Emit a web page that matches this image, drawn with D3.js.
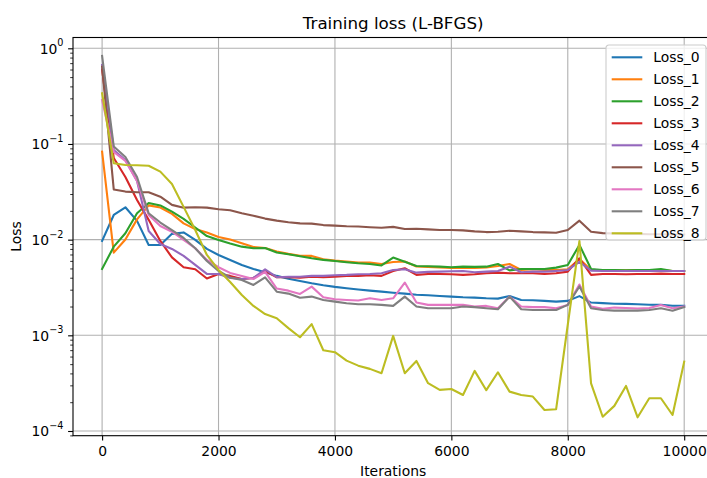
<!DOCTYPE html>
<html>
<head>
<meta charset="utf-8">
<script src="https://cdn.jsdelivr.net/npm/d3@7/dist/d3.min.js"></script>
<style>
body { margin: 0; background: #fff; }
text { font-family: "DejaVu Sans", sans-serif; fill: #000; }
</style>
</head>
<body>
<svg id="chart" width="707" height="478"></svg>
<script>
var iterations = [0, 200, 400, 600, 800, 1000, 1200, 1400, 1600, 1800,
  2000, 2200, 2400, 2600, 2800, 3000, 3200, 3400, 3600, 3800,
  4000, 4200, 4400, 4600, 4800, 5000, 5200, 5400, 5600, 5800,
  6000, 6200, 6400, 6600, 6800, 7000, 7200, 7400, 7600, 7800,
  8000, 8200, 8400, 8600, 8800, 9000, 9200, 9400, 9600, 9800, 10000];

var loss0 = [0.0097, 0.0181, 0.0218, 0.0157, 0.00879, 0.00879, 0.0115, 0.0119, 0.00993, 0.0080,
  0.00692, 0.00614, 0.00544, 0.00494, 0.00456, 0.00418, 0.00391, 0.00370, 0.00350, 0.00334,
  0.00321, 0.00311, 0.00301, 0.00293, 0.00286, 0.00279, 0.00273, 0.00266, 0.00262, 0.00258,
  0.00254, 0.00250, 0.00248, 0.00244, 0.00242, 0.00258, 0.00234, 0.00233, 0.00229, 0.00225,
  0.00229, 0.00257, 0.00220, 0.00217, 0.00214, 0.00213, 0.00211, 0.00209, 0.00208, 0.00204, 0.00203];
var loss1 = [0.0831, 0.00731, 0.01005, 0.0163, 0.0228, 0.0217, 0.0186, 0.0148, 0.0129, 0.0119,
  0.01067, 0.01005, 0.00917, 0.00839, 0.00819, 0.00750, 0.00710, 0.00679, 0.00676, 0.00624,
  0.00604, 0.00589, 0.00575, 0.00575, 0.00557, 0.00585, 0.00592, 0.00525, 0.00519, 0.00513,
  0.00506, 0.00510, 0.00506, 0.00513, 0.00531, 0.00557, 0.00482, 0.00491, 0.00482, 0.00482,
  0.00491, 0.00628, 0.00482, 0.00482, 0.00477, 0.00477, 0.00482, 0.00482, 0.00482, 0.00471, 0.00471];
var loss2 = [0.00494, 0.00845, 0.01167, 0.0189, 0.0242, 0.0228, 0.0196, 0.0165, 0.0134, 0.0109,
  0.00993, 0.00912, 0.00845, 0.00813, 0.00819, 0.00735, 0.00705, 0.00671, 0.00639, 0.00614,
  0.00599, 0.00581, 0.00566, 0.00557, 0.00537, 0.00649, 0.00589, 0.00531, 0.00527, 0.00522,
  0.00515, 0.00522, 0.00519, 0.00522, 0.00557, 0.00477, 0.00494, 0.00494, 0.00494, 0.00510,
  0.00544, 0.00881, 0.00494, 0.00482, 0.00482, 0.00477, 0.00482, 0.00482, 0.00494, 0.00471, 0.00471];
var loss3 = [0.600, 0.0714, 0.0452, 0.0260, 0.0161, 0.00969, 0.00652, 0.00515, 0.00491, 0.00393,
  0.00438, 0.00418, 0.00388, 0.00398, 0.00471, 0.00405, 0.00405, 0.00401, 0.00410, 0.00405,
  0.00410, 0.00418, 0.00418, 0.00425, 0.00418, 0.00471, 0.00502, 0.00428, 0.00438, 0.00438,
  0.00435, 0.00428, 0.00435, 0.00446, 0.00452, 0.00446, 0.00446, 0.00446, 0.00438, 0.00446,
  0.00463, 0.00639, 0.00428, 0.00438, 0.00438, 0.00435, 0.00438, 0.00438, 0.00441, 0.00438, 0.00438];
var loss4 = [0.669, 0.0865, 0.0681, 0.0410, 0.0123, 0.00902, 0.00800, 0.00676, 0.00544, 0.00438,
  0.00438, 0.00398, 0.00388, 0.00398, 0.00489, 0.00405, 0.00410, 0.00410, 0.00418, 0.00418,
  0.00425, 0.00428, 0.00435, 0.00438, 0.00446, 0.00482, 0.00491, 0.00452, 0.00460, 0.00463,
  0.00468, 0.00471, 0.00456, 0.00463, 0.00471, 0.00522, 0.00456, 0.00463, 0.00463, 0.00471,
  0.00482, 0.00585, 0.00474, 0.00471, 0.00471, 0.00471, 0.00471, 0.00471, 0.00471, 0.00471, 0.00471];
var loss5 = [0.642, 0.0335, 0.0318, 0.0313, 0.0313, 0.0281, 0.0231, 0.0216, 0.0218, 0.0216,
  0.0208, 0.0203, 0.0189, 0.0178, 0.0166, 0.0158, 0.0152, 0.0148, 0.0147, 0.0142,
  0.0140, 0.0138, 0.0137, 0.0135, 0.0133, 0.0136, 0.0129, 0.0130, 0.0128, 0.0126,
  0.0126, 0.0125, 0.0122, 0.0120, 0.0121, 0.0124, 0.0122, 0.0120, 0.0119, 0.0118,
  0.0126, 0.0158, 0.0121, 0.0117, 0.0116, 0.0115, 0.0115, 0.0114, 0.0114, 0.0113, 0.0113];
var loss6 = [0.288, 0.0824, 0.0665, 0.0410, 0.0181, 0.0139, 0.0121, 0.00993, 0.00813, 0.00614,
  0.00515, 0.00449, 0.00418, 0.00388, 0.00460, 0.00308, 0.00293, 0.00271, 0.00323, 0.00250,
  0.00238, 0.00234, 0.00231, 0.00244, 0.00234, 0.00244, 0.00356, 0.00220, 0.00208, 0.00208,
  0.00208, 0.00208, 0.00200, 0.00203, 0.00192, 0.00254, 0.00200, 0.00197, 0.00197, 0.00192,
  0.00208, 0.00340, 0.00200, 0.00189, 0.00195, 0.00193, 0.00191, 0.00193, 0.00208, 0.00192, 0.00200];
var loss7 = [0.831, 0.0942, 0.0731, 0.0452, 0.0189, 0.0151, 0.0126, 0.01042, 0.00813, 0.00599,
  0.00471, 0.00403, 0.00379, 0.00336, 0.00403, 0.00286, 0.00273, 0.00247, 0.00254, 0.00234,
  0.00225, 0.00216, 0.00211, 0.00211, 0.00208, 0.00203, 0.00254, 0.00200, 0.00192, 0.00192,
  0.00192, 0.00200, 0.00197, 0.00192, 0.00187, 0.00254, 0.00187, 0.00184, 0.00184, 0.00184,
  0.00208, 0.00324, 0.00192, 0.00184, 0.00181, 0.00181, 0.00181, 0.00184, 0.00192, 0.00181, 0.00197];
var loss8 = [0.339, 0.0629, 0.0604, 0.0599, 0.0593, 0.0514, 0.0382, 0.0220, 0.0126, 0.00692,
  0.00482, 0.00361, 0.00264, 0.00203, 0.00167, 0.00151, 0.00119, 0.000955, 0.00131, 0.000699,
  0.000666, 0.000544, 0.000482, 0.000446, 0.000402, 0.000986, 0.000402, 0.000540, 0.000316, 0.000269,
  0.000275, 0.000238, 0.000425, 0.000267, 0.000411, 0.000258, 0.000238, 0.000229, 0.000166, 0.000169,
  0.00129, 0.00969, 0.000314, 0.000141, 0.000183, 0.000296, 0.000139, 0.000220, 0.000220, 0.000147, 0.000531];

var seriesNames = ["Loss_0", "Loss_1", "Loss_2", "Loss_3", "Loss_4", "Loss_5", "Loss_6", "Loss_7", "Loss_8"];
var seriesValues = [loss0, loss1, loss2, loss3, loss4, loss5, loss6, loss7, loss8];
var colors = ["#1f77b4", "#ff7f0e", "#2ca02c", "#d62728", "#9467bd", "#8c564b", "#e377c2", "#7f7f7f", "#bcbd22"];
var xTicks = [0, 2000, 4000, 6000, 8000, 10000];
var yTicks = [1e-4, 1e-3, 1e-2, 1e-1, 1];
var yExponents = ["\u22124", "\u22123", "\u22122", "\u22121", "0"];

var WIDTH = 707, HEIGHT = 478,
    MARGINS = { top: 37.5, right: -6.3, bottom: 42.3, left: 73 };

var vis = d3.select("#chart");

var xScale = d3.scaleLinear().domain([-500, 10500]).range([MARGINS.left, WIDTH - MARGINS.right]);
var yScale = d3.scaleLog().domain([8.93e-5, 1.297]).range([HEIGHT - MARGINS.bottom, MARGINS.top]);

vis.append("defs").append("clipPath").attr("id", "clip")
   .append("rect")
   .attr("x", MARGINS.left).attr("y", MARGINS.top)
   .attr("width", WIDTH - MARGINS.right - MARGINS.left)
   .attr("height", HEIGHT - MARGINS.bottom - MARGINS.top);

// grid
var grid = vis.append("g").attr("class", "grid");
grid.selectAll(".gx").data(xTicks).enter().append("line")
    .attr("x1", function(d) { return xScale(d); }).attr("x2", function(d) { return xScale(d); })
    .attr("y1", MARGINS.top).attr("y2", HEIGHT - MARGINS.bottom)
    .attr("stroke", "#b0b0b0").attr("stroke-width", 1.1);
grid.selectAll(".gy").data(yTicks).enter().append("line")
    .attr("x1", MARGINS.left).attr("x2", WIDTH - MARGINS.right)
    .attr("y1", function(d) { return yScale(d); }).attr("y2", function(d) { return yScale(d); })
    .attr("stroke", "#b0b0b0").attr("stroke-width", 1.1);

// lines
var lineGen = d3.line()
    .x(function(d, i) { return xScale(iterations[i]); })
    .y(function(d) { return yScale(d); });

var lines = vis.append("g").attr("clip-path", "url(#clip)");
seriesValues.forEach(function(vals, k) {
    lines.append("path")
        .attr("d", lineGen(vals))
        .attr("fill", "none")
        .attr("stroke", colors[k])
        .attr("stroke-width", 2.1)
        .attr("stroke-linejoin", "round")
        .attr("stroke-linecap", "square");
});

// axes
var xAxis = d3.axisBottom(xScale).tickValues(xTicks).tickSize(4.9).tickPadding(5.5)
    .tickFormat(d3.format("d"));
var gx = vis.append("g")
    .attr("transform", "translate(0," + (HEIGHT - MARGINS.bottom) + ")")
    .call(xAxis);
gx.select(".domain").remove();
gx.selectAll("line").attr("stroke", "#000").attr("stroke-width", 1.1);
gx.selectAll("text").attr("font-size", "13.9px").attr("font-family", "DejaVu Sans");

var minorTicks = [];
[1e-5, 1e-4, 1e-3, 1e-2, 1e-1, 1].forEach(function(p) {
    [2, 3, 4, 5, 6, 7, 8, 9].forEach(function(m) {
        var v = p * m;
        if (v > yScale.domain()[0] && v < yScale.domain()[1]) minorTicks.push(v);
    });
});
var gyMinor = vis.append("g")
    .attr("transform", "translate(" + MARGINS.left + ",0)")
    .call(d3.axisLeft(yScale).tickValues(minorTicks).tickSize(2.8).tickFormat(""));
gyMinor.select(".domain").remove();
gyMinor.selectAll("line").attr("stroke", "#000").attr("stroke-width", 0.8);

var yAxis = d3.axisLeft(yScale).tickValues(yTicks).tickSize(4.9).tickPadding(4.9).tickFormat("");
var gy = vis.append("g")
    .attr("transform", "translate(" + MARGINS.left + ",0)")
    .call(yAxis);
gy.select(".domain").remove();
gy.selectAll("line").attr("stroke", "#000").attr("stroke-width", 1.1);
gy.selectAll(".tick text").each(function(d, i) {
    var t = d3.select(this).attr("font-size", "13.9px").attr("dy", "0.35em").attr("x", -9.5);
    t.append("tspan").text("10");
    t.append("tspan").attr("font-size", "9.7px").attr("dy", "-0.75em").text(yExponents[yTicks.indexOf(d)]);
});

// spines
vis.append("rect")
   .attr("x", MARGINS.left).attr("y", MARGINS.top)
   .attr("width", WIDTH - MARGINS.right - MARGINS.left)
   .attr("height", HEIGHT - MARGINS.bottom - MARGINS.top)
   .attr("fill", "none").attr("stroke", "#000").attr("stroke-width", 1.1);

// title and labels
var midX = (MARGINS.left + WIDTH - MARGINS.right) / 2;
vis.append("text").attr("x", midX).attr("y", 28.5)
   .attr("text-anchor", "middle").attr("font-size", "16.7px").text("Training loss (L-BFGS)");
vis.append("text").attr("x", midX).attr("y", 475.5)
   .attr("text-anchor", "middle").attr("font-size", "13.9px").text("Iterations");
vis.append("text")
   .attr("transform", "translate(21," + ((MARGINS.top + HEIGHT - MARGINS.bottom) / 2) + ") rotate(-90)")
   .attr("text-anchor", "middle").attr("font-size", "13.9px").text("Loss");

// legend
var legend = vis.append("g").attr("transform", "translate(606,45)");
legend.append("rect")
    .attr("width", 100).attr("height", 195).attr("rx", 3)
    .attr("fill", "#fff").attr("fill-opacity", 0.8)
    .attr("stroke", "#cccccc").attr("stroke-width", 1.1);
var items = legend.selectAll(".item").data(seriesNames).enter().append("g")
    .attr("transform", function(d, i) { return "translate(0," + (12.3 + i * 22) + ")"; });
items.append("line")
    .attr("x1", 5.7).attr("x2", 36.3).attr("y1", 0).attr("y2", 0)
    .attr("stroke", function(d, i) { return colors[i]; }).attr("stroke-width", 2.1);
items.append("text")
    .attr("x", 47.3).attr("dy", "0.35em").attr("font-size", "13.9px")
    .text(function(d) { return d; });
</script>
</body>
</html>
